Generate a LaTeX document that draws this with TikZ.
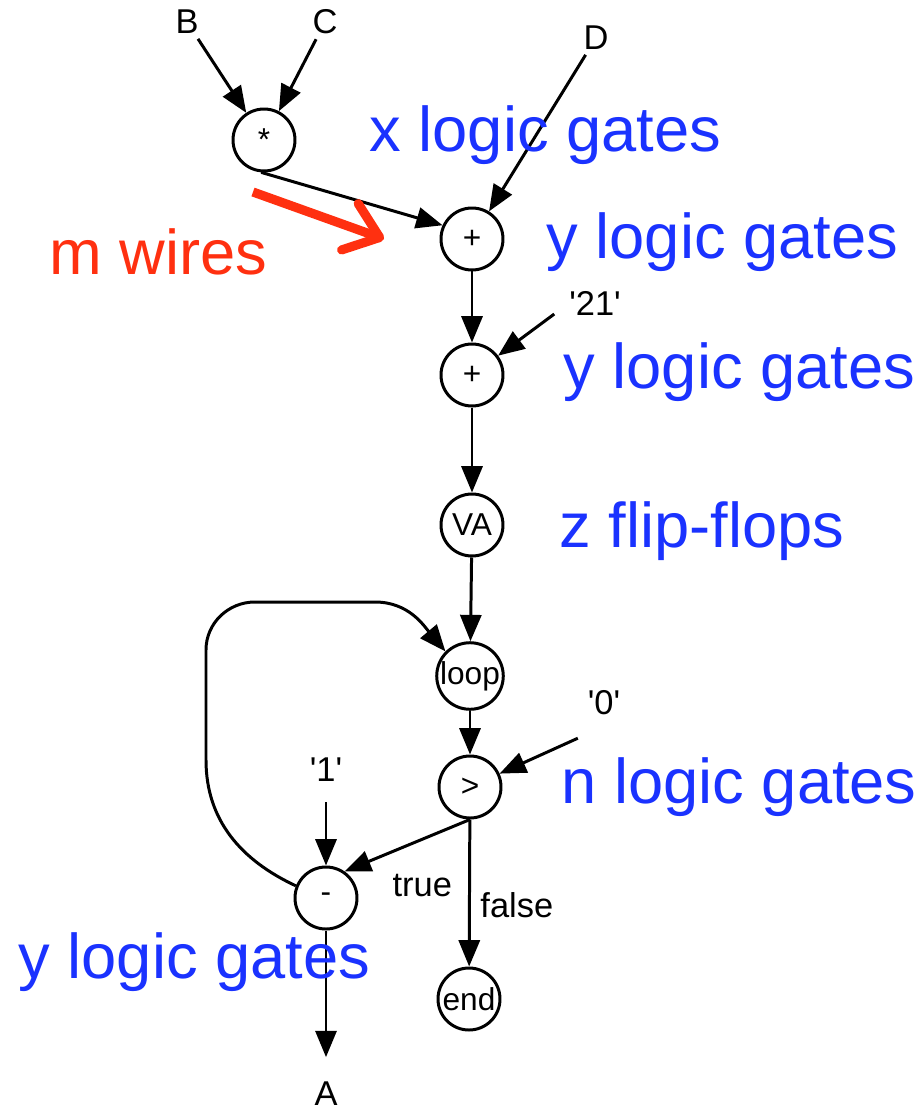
\documentclass[tikz,border=0pt]{standalone}
\usepackage{fontspec}
\setmainfont{Liberation Sans}
\usetikzlibrary{arrows.meta}
\definecolor{noteblue}{RGB}{26,50,255}
\definecolor{wirered}{RGB}{255,48,16}
\tikzset{
	gate/.style={circle,draw,line width=0.85pt,inner sep=0pt,minimum size=0.62cm,font=\fontsize{9}{10}\selectfont},
	inp/.style={inner sep=1pt,font=\fontsize{9.8}{10}\selectfont},
	note/.style={anchor=base west,inner sep=0pt,text=noteblue,font=\fontsize{18}{20}\selectfont},
}
\newcommand{\q}[1]{\textquotesingle#1\textquotesingle}
\begin{document}
\begin{tikzpicture}[>={Triangle[length=7.5pt,width=6pt]},line width=0.85pt]
			\useasboundingbox (0,0) rectangle (9.24,-11.08);
			\node[gate] (mul) at (2.64,-1.40) {*};
			\node[gate] (addA) at (4.72,-2.39) {+};
			\node[gate] (addB) at (4.72,-3.75) {+};
			\node[gate] (va) at (4.72,-5.25) {VA};
			\node[gate] (loop) at (4.70,-6.76) {loop};
			\node[gate] (gt) at (4.70,-7.87) {>};
			\node[gate] (sub) at (3.26,-8.98) {-};
			\node[gate] (end) at (4.69,-9.99) {end};
			\node[inp] (inB) at (1.87,-0.22) {B};
			\node[inp] (inC) at (3.25,-0.22) {C};
			\node[inp] (inD) at (5.96,-0.38) {D};
			\node[inp] (in21) at (5.95,-3.03) {\q{21}};
			\node[inp] (in0) at (6.04,-7.03) {\q{0}};
			\node[inp] (in1) at (3.26,-7.70) {\q{1}};
			\node[inp] (outA) at (3.26,-10.94) {A};
			\draw[->] (inB) -- (mul);
			\draw[->] (inC) -- (mul);
			\draw[->] (mul.-95) -- (addA.155);
			\draw[->] (inD) -- (addA);
			\draw[->] (addA) -- (addB);
			\draw[->] (in21.south west) ++(-0.1,0.06) -- (addB);
			\draw[->] (addB) -- (va);
			\draw[->] (va) -- (loop);
			\draw[->] (loop) -- (gt);
			\draw[->] (in0.south west) ++(-0.05,-0.18) -- (gt);
			\draw[->] (in1) ++(0,-0.32) -- (sub);
			\draw[->] (gt.-90) -- (sub.55) node[pos=0.5,below,inp,xshift=0.15cm,yshift=-0.24cm] {true};
			\draw[->] (gt) -- (end) node[pos=0.58,right,inp,xshift=0.06cm] {false};
			\draw[->,shorten >=0.2cm] (sub) -- (outA.north);
			\draw[->] (sub.158) to[out=155,in=-90] (2.06,-7.6) -- (2.06,-6.5)
			to[out=90,in=180] (2.55,-6.02) -- (3.75,-6.02) to[out=0,in=130] (loop.135);
			\draw[wirered,line width=2.6pt,-{Straight Barb[round,length=9pt,width=14pt]}] (2.53,-1.92) -- (3.84,-2.39);
			\node[note] (nx) at (3.68,-1.51) {x logic gates};
			\node[note] (ny1) at (5.45,-2.58) {y logic gates};
			\node[note] (ny2) at (5.62,-3.88) {y logic gates};
			\node[note] (nz) at (5.58,-5.47) {z flip-flops};
			\node[note] (nn) at (5.60,-8.03) {n logic gates};
			\node[note] (ny3) at (0.17,-9.78) {y logic gates};
			\node[note,text=wirered] (nm) at (0.48,-2.74) {m wires};
		\end{tikzpicture}
\end{document}
